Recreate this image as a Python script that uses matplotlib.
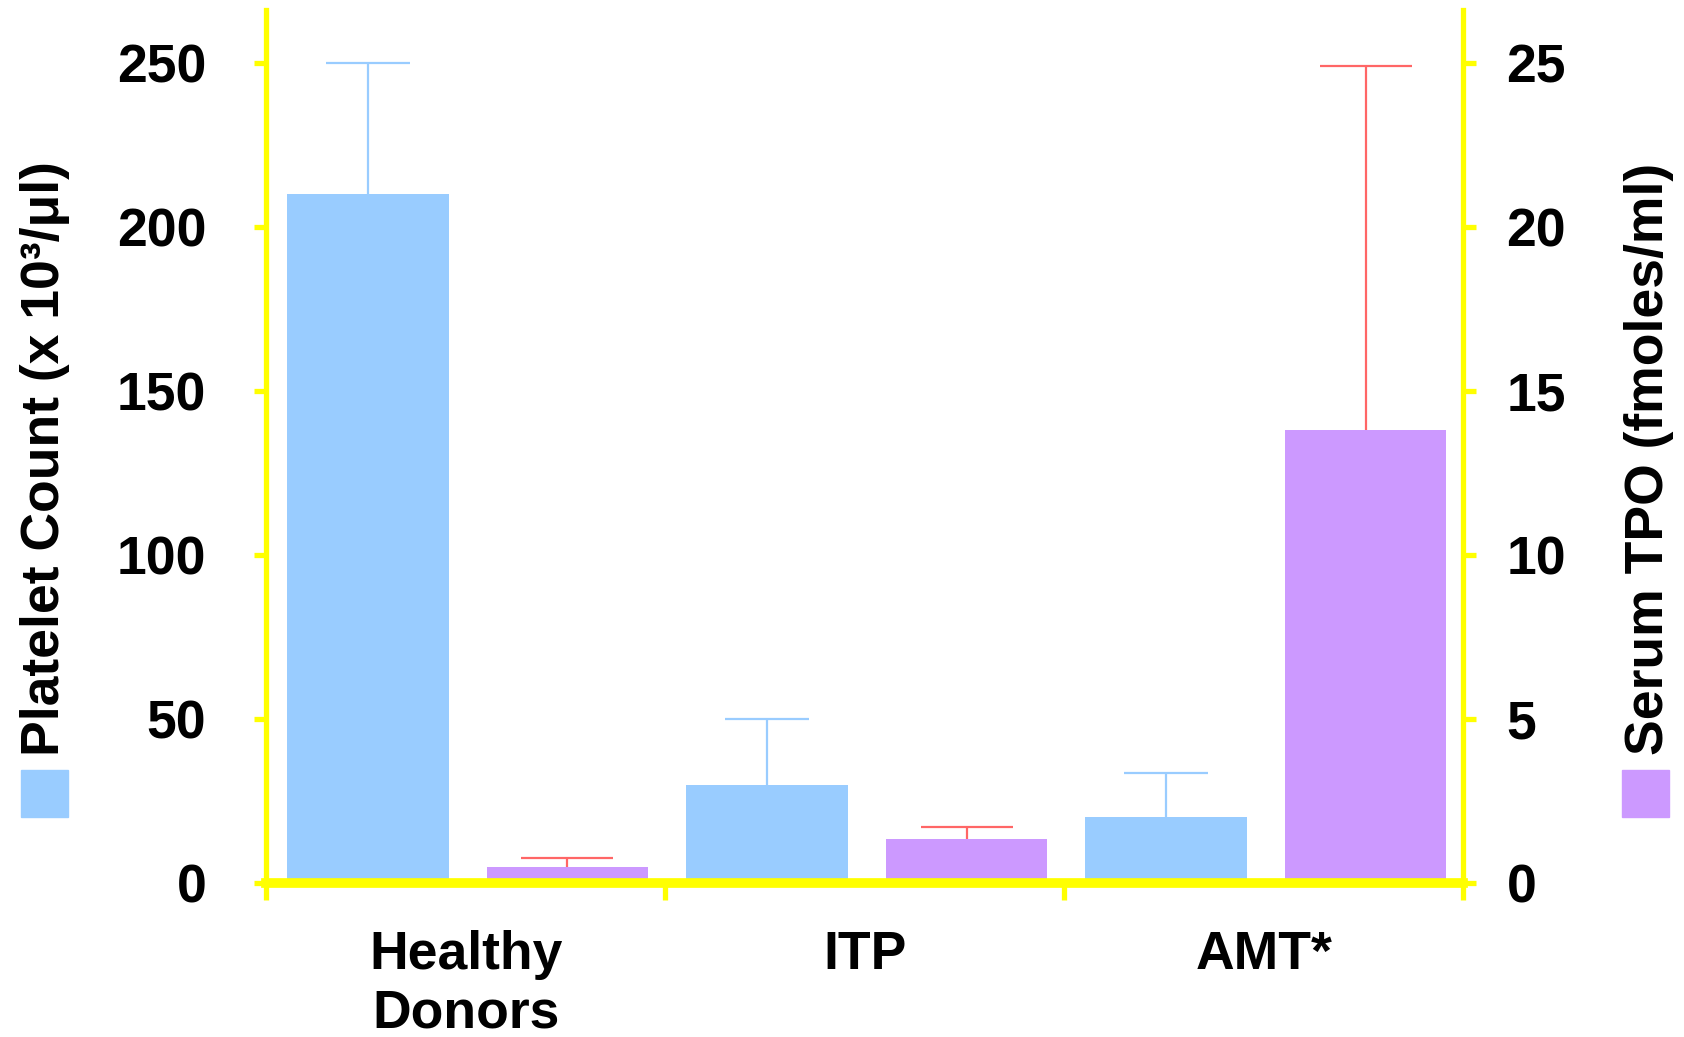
import matplotlib
matplotlib.use("Agg")
import matplotlib.pyplot as plt
from matplotlib.patches import Rectangle

plt.rcParams['font.family'] = ['Liberation Sans', 'DejaVu Sans']
plt.rcParams['font.weight'] = 'bold'

# data
groups = ['Healthy\nDonors', 'ITP', 'AMT*']
platelet = [210, 30, 20]
platelet_err = [40, 20, 13.5]
tpo = [0.5, 1.35, 13.8]
tpo_err = [0.25, 0.35, 11.1]

blue = '#99CCFF'
purple = '#CC99FF'
red = '#FF6666'
yellow = '#FFFF00'
fs = 38.5

fig = plt.figure(figsize=(16.84, 10.37), dpi=100)
ax = fig.add_axes([0.158, 0.1485, 0.711, 0.8415])
ax2 = ax.twinx()

xb = [i + 0.255 for i in range(3)]
xp = [i + 0.755 for i in range(3)]
w = 0.405

ax.bar(xb, platelet, width=w, color=blue, zorder=1)
_, caps, _ = ax.errorbar(xb, platelet, yerr=[[0] * 3, platelet_err], fmt='none',
                         ecolor=blue, elinewidth=1.6, capsize=30, capthick=1.6)
caps[0].set_visible(False)  # only the upper cap
ax2.bar(xp, tpo, width=w, color=purple, zorder=1)
_, caps2, _ = ax2.errorbar(xp, tpo, yerr=[[0] * 3, tpo_err], fmt='none',
                           ecolor=red, elinewidth=1.6, capsize=33, capthick=1.6)
caps2[0].set_visible(False)

ax.set_xlim(0, 3)
ax.set_ylim(0, 266)
ax2.set_ylim(0, 26.6)
ax.set_yticks([0, 50, 100, 150, 200, 250])
ax2.set_yticks([0, 5, 10, 15, 20, 25])

# spines
for s in ['top', 'right', 'bottom']:
    ax.spines[s].set_visible(False)
ax.spines['left'].set_color(yellow)
ax.spines['left'].set_linewidth(3.8)
for s in ['top', 'left']:
    ax2.spines[s].set_visible(False)
ax2.spines['right'].set_color(yellow)
ax2.spines['right'].set_linewidth(3.8)
ax2.spines['bottom'].set_visible(True)
ax2.spines['bottom'].set_color(yellow)
ax2.spines['bottom'].set_linewidth(7)

ax.tick_params(axis='y', colors=yellow, width=3.8, length=9, pad=34,
               labelsize=fs, labelcolor='black')
ax2.tick_params(axis='y', colors=yellow, width=3.8, length=9, pad=22,
                labelsize=fs, labelcolor='black')

ax.set_xticks([0, 1, 2, 3])
ax.set_xticklabels([])
ax.set_xticks([0.5, 1.5, 2.5], minor=True)
ax.set_xticklabels(groups, minor=True, fontsize=fs, fontweight='bold')
ax.tick_params(axis='x', which='major', colors=yellow, width=3.8, length=12)
ax.tick_params(axis='x', which='minor', length=0, pad=34, labelcolor='black')

# axis titles with colour keys
fig.text(0.027, 0.558, 'Platelet Count (x 10³/μl)', rotation=90,
         ha='center', va='center', fontsize=fs, fontweight='bold')
fig.text(0.979, 0.557, 'Serum TPO (fmoles/ml)', rotation=90,
         ha='center', va='center', fontsize=fs, fontweight='bold')
fig.patches.append(Rectangle((0.0125, 0.212), 0.028, 0.0455,
                             transform=fig.transFigure, color=blue))
fig.patches.append(Rectangle((0.963, 0.212), 0.028, 0.0455,
                             transform=fig.transFigure, color=purple))

fig.savefig('out.png', dpi=100)
